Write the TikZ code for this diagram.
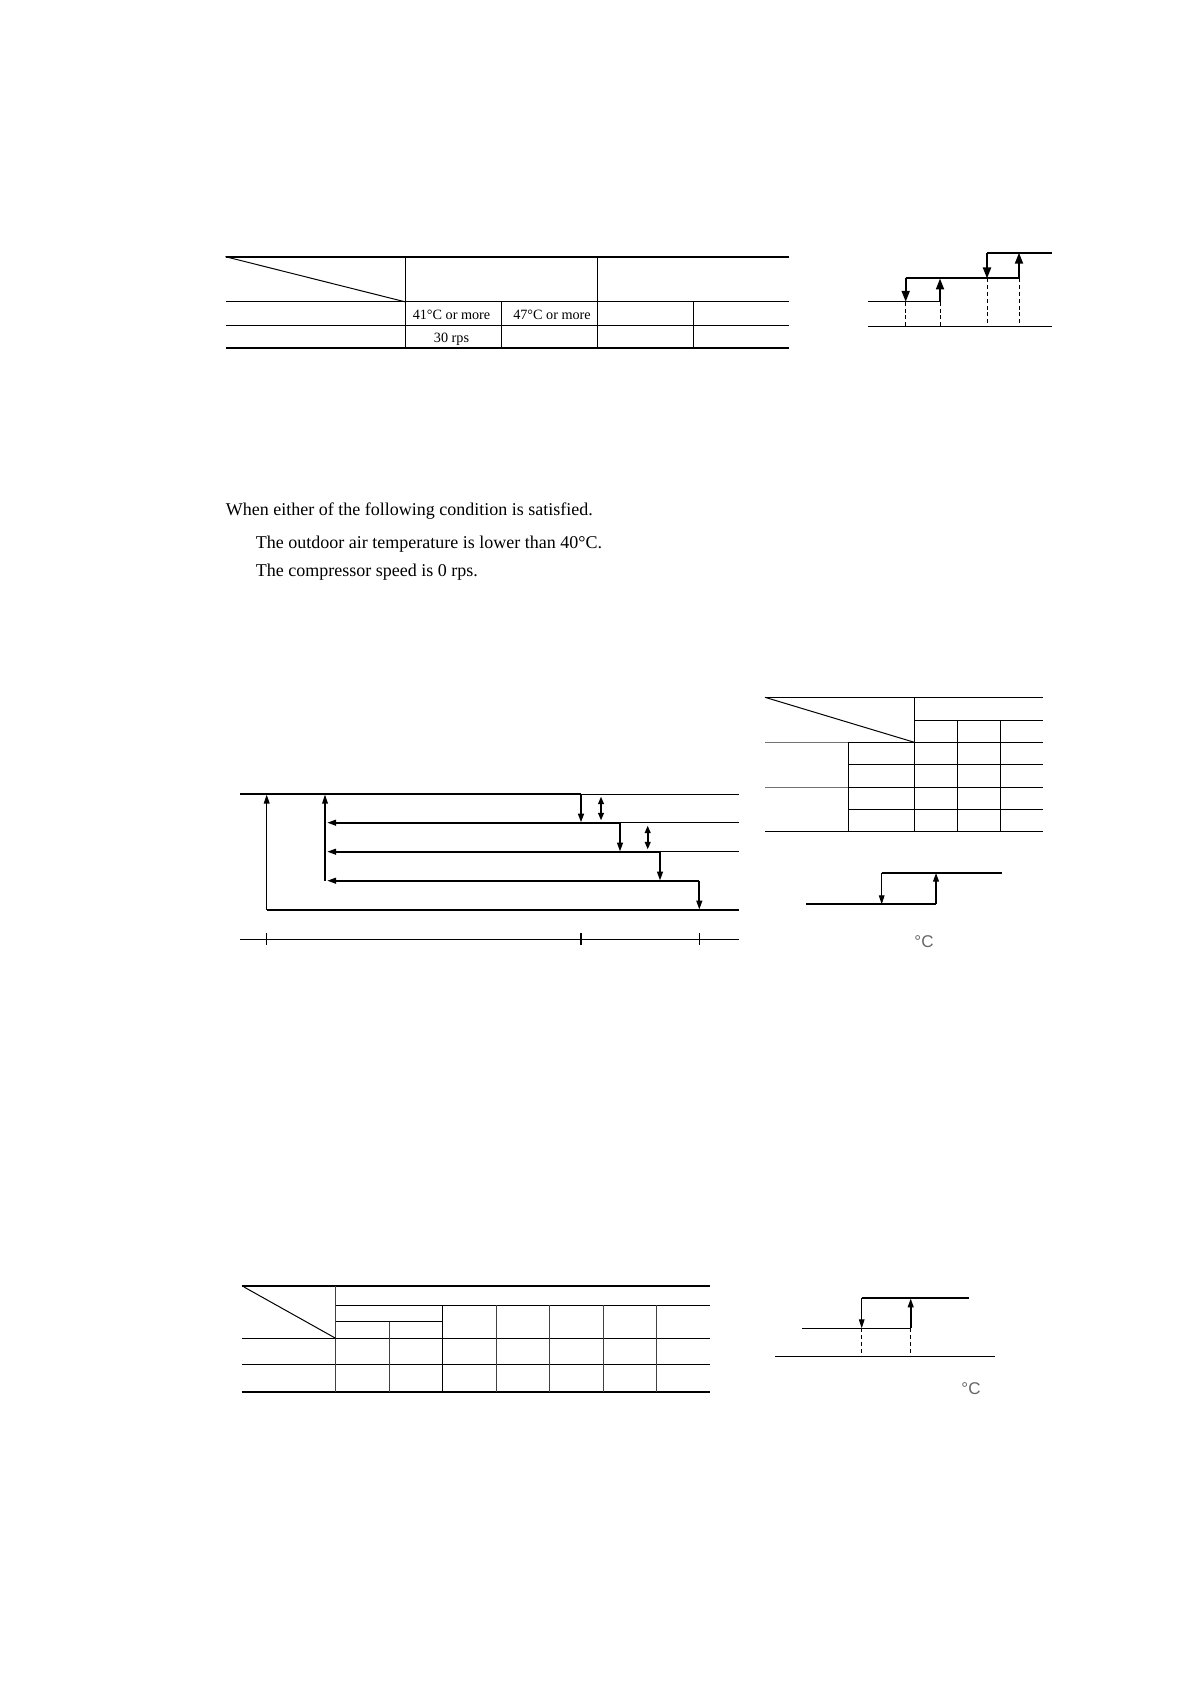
\documentclass[tikz,border=0pt]{standalone}
\usepackage{fontspec}
\setmainfont{Liberation Serif}
\newfontfamily\unitfont{Liberation Sans}
\usetikzlibrary{arrows.meta}
\begin{document}
\begin{tikzpicture}[x=0.5pt,y=-0.5pt,
  thinl/.style={line width=0.5pt},
  thickl/.style={line width=1pt},
  midl/.style={line width=0.7pt},
  rulel/.style={line width=1.1pt},
  dashl/.style={line width=0.5pt,dash pattern=on 2pt off 1.4pt},
  bigtip/.style={-{Triangle[length=5.5pt,width=4pt]}},
  smalltip/.style={-{Triangle[length=4.5pt,width=2.8pt]}},
  dbltip/.style={{Triangle[length=3.8pt,width=2.8pt]}-{Triangle[length=3.8pt,width=2.8pt]}},
  cell/.style={font=\fontsize{7.1}{8.5}\selectfont, inner sep=0pt, anchor=base},
  bodytxt/.style={font=\fontsize{9}{11}\selectfont, inner sep=0pt, anchor=base west},
  unitlbl/.style={font=\unitfont\fontsize{8.5}{10}\selectfont, text=black!60, inner sep=0pt}
]
\fill[white] (0,0) rectangle (1191,1684);
\useasboundingbox (0,0) rectangle (1191,1684);

% ---------- Table 1 ----------
\draw[rulel] (225.5,256.7) -- (789,256.7);
\draw[thinl] (225.5,301.8) -- (789,301.8);
\draw[thinl] (225.5,325.4) -- (789,325.4);
\draw[rulel] (225.5,348) -- (789,348);
\draw[thinl] (405,256.7) -- (405,348);
\draw[thinl] (597,256.7) -- (597,348);
\draw[thinl] (501.5,301.8) -- (501.5,348);
\draw[thinl] (693,301.8) -- (693,348);
\draw[thinl] (225.5,256.7) -- (405,301.8);
\node[cell] (t41) at (451.5,319.5) {41°C or more};
\node[cell] (t47) at (552,319.5) {47°C or more};
\node[cell] (t30) at (451.5,342.5) {30 rps};

% ---------- Hysteresis 1 ----------
\draw[thinl] (868,326.5) -- (1052,326.5);
\draw[thinl] (868,301.8) -- (940,301.8);
\draw[thickl] (905.7,278.5) -- (1019,278.5);
\draw[thickl] (987,252.7) -- (1052,252.7);
\draw[dashl] (905.7,301.8) -- (905.7,326.5);
\draw[dashl] (940,301.8) -- (940,326.5);
\draw[dashl] (987,278.5) -- (987,326.5);
\draw[dashl] (1019,278.5) -- (1019,326.5);
\draw[thickl,bigtip] (905.7,278.5) -- (905.7,301.8);
\draw[thickl,bigtip] (940,301.8) -- (940,278.5);
\draw[thickl,bigtip] (987,252.7) -- (987,278.5);
\draw[thickl,bigtip] (1019,278.5) -- (1019,252.7);

% ---------- Text ----------
\node[bodytxt] (l1) at (225.5,515) {When either of the following condition is satisfied.};
\node[bodytxt] (l2) at (255.5,548) {The outdoor air temperature is lower than 40°C.};
\node[bodytxt] (l3) at (255.5,576) {The compressor speed is 0 rps.};

% ---------- Main step chart ----------
\draw[thickl] (240,794) -- (581,794);
\draw[thinl] (581,794) -- (739,794);
\draw[thickl,smalltip] (620,822.7) -- (327,822.7);
\draw[thinl] (620,822.7) -- (739,822.7);
\draw[thickl,smalltip] (660,851.7) -- (327,851.7);
\draw[thinl] (660,851.7) -- (739,851.7);
\draw[thickl,smalltip] (699.3,880.7) -- (327,880.7);
\draw[thickl] (266.7,909.7) -- (739,909.7);
\draw[midl,smalltip] (266.7,909.7) -- (266.7,794.5);
\draw[midl,smalltip] (325,880.7) -- (325,794.5);
\draw[line width=1.4pt,smalltip] (581,794) -- (581,822.7);
\draw[thickl,smalltip] (620,822.7) -- (620,851.7);
\draw[thickl,smalltip] (660,851.7) -- (660,880.7);
\draw[thickl,smalltip] (699.3,880.7) -- (699.3,909.7);
\draw[thickl,dbltip] (601,796.5) -- (601,820.5);
\draw[thickl,dbltip] (647.7,825.5) -- (647.7,849.5);
\draw[thinl] (240,939) -- (739,939);
\draw[thinl] (266.7,933) -- (266.7,945);
\draw[thickl] (581,933) -- (581,945);
\draw[thinl] (699.3,933) -- (699.3,945);

% ---------- Table 2 (right) ----------
\draw[thinl] (765,697.3) -- (1042.7,697.3);
\draw[thinl] (914.3,720.3) -- (1042.7,720.3);
\draw[thinl,black!55] (765,742.3) -- (848,742.3);
\draw[thinl] (848,742.3) -- (1042.7,742.3);
\draw[thinl] (848,764.3) -- (1042.7,764.3);
\draw[thinl,black!55] (765,787.3) -- (848,787.3);
\draw[thinl] (848,787.3) -- (1042.7,787.3);
\draw[thinl] (848,809.3) -- (1042.7,809.3);
\draw[thinl] (765,831.7) -- (1042.7,831.7);
\draw[thinl] (914.3,697.3) -- (914.3,831.7);
\draw[thinl] (957.3,720.3) -- (957.3,831.7);
\draw[thinl] (1000,720.3) -- (1000,831.7);
\draw[thinl] (848,742.3) -- (848,831.7);
\draw[thinl] (765,697.3) -- (914.3,742.3);

% ---------- Hysteresis 2 ----------
\draw[thickl] (806,904.3) -- (936,904.3);
\draw[thickl] (881.7,872.7) -- (1001.7,872.7);
\draw[thinl,smalltip] (881.7,872.7) -- (881.7,904.3);
\draw[thickl,smalltip] (936,904.3) -- (936,872.7);
\node[unitlbl] (u1) at (924,942) {°C};

% ---------- Table 3 (bottom) ----------
\draw[rulel] (241.7,1286) -- (710,1286);
\draw[thinl] (335.7,1305.3) -- (710,1305.3);
\draw[thinl] (335.7,1321.7) -- (442.3,1321.7);
\draw[thinl] (241.7,1338.3) -- (710,1338.3);
\draw[thinl] (241.7,1364.3) -- (710,1364.3);
\draw[rulel] (241.7,1391.7) -- (710,1391.7);
\draw[thinl,black!75] (335.7,1286) -- (335.7,1391.7);
\draw[thinl,black!75] (389,1321.7) -- (389,1391.7);
\draw[thinl] (442.3,1305.3) -- (442.3,1391.7);
\draw[thinl,black!75] (496,1305.3) -- (496,1391.7);
\draw[thinl,black!75] (549.3,1305.3) -- (549.3,1391.7);
\draw[thinl,black!75] (603,1305.3) -- (603,1391.7);
\draw[thinl,black!75] (656.3,1305.3) -- (656.3,1391.7);
\draw[thinl] (244,1287) -- (335.7,1338.3);

% ---------- Hysteresis 3 ----------
\draw[thinl] (775.3,1356) -- (995,1356);
\draw[thickl] (861.7,1298.3) -- (969.3,1298.3);
\draw[thinl] (802.3,1328.3) -- (910.7,1328.3);
\draw[dashl] (861.7,1328.3) -- (861.7,1356);
\draw[dashl] (910.7,1328.3) -- (910.7,1356);
\draw[thinl,smalltip] (861.7,1298.3) -- (861.7,1328.3);
\draw[thickl,smalltip] (910.7,1328.3) -- (910.7,1298.3);
\node[unitlbl] (u2) at (971,1388.5) {°C};
\end{tikzpicture}
\end{document}
